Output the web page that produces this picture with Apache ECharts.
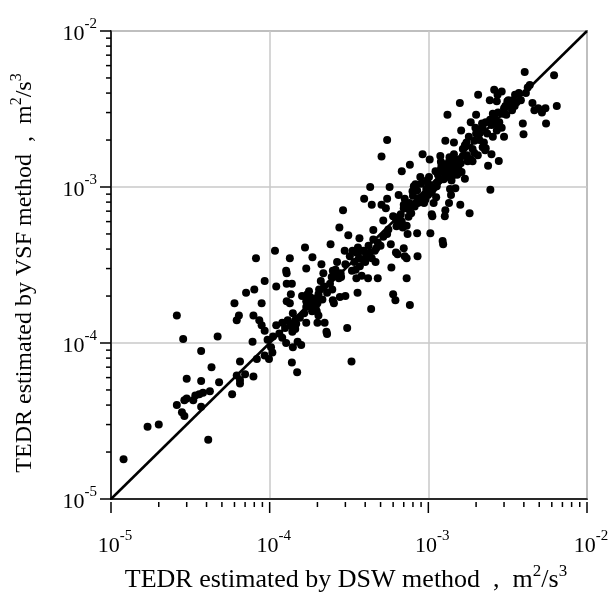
<!DOCTYPE html>
<html>
<head>
<meta charset="utf-8">
<script src="https://cdn.jsdelivr.net/npm/echarts@6/dist/echarts.min.js"></script>
<style>
  html, body { margin: 0; padding: 0; background: #fff; }
  #chart { width: 614px; height: 592px; }
</style>
</head>
<body>
<div id="chart"></div>
<script>
// TEDR pairs [DSW, VSF], m^2/s^3
const tedrPairs = [
  [1.2e-5, 1.8e-5], [1.7e-5, 2.9e-5], [2.0e-5, 3.0e-5], [2.6e-5, 1.5e-4], [2.85e-5, 1.06e-4],
  [2.6e-5, 4.0e-5], [2.8e-5, 3.6e-5], [2.9e-5, 3.4e-5], [2.9e-5, 4.3e-5], [3.0e-5, 4.4e-5],
  [3.0e-5, 5.9e-5], [3.3e-5, 4.3e-5], [3.4e-5, 4.6e-5], [3.6e-5, 4.7e-5], [3.7e-5, 3.9e-5],
  [3.8e-5, 4.8e-5], [3.7e-5, 8.9e-5], [3.7e-5, 5.7e-5], [4.2e-5, 4.9e-5], [4.3e-5, 7.0e-5],
  [4.1e-5, 2.4e-5], [4.7e-5, 1.1e-4], [4.8e-5, 5.6e-5], [5.8e-5, 4.7e-5], [6.0e-5, 1.8e-4],
  [6.2e-5, 1.4e-4], [6.4e-5, 1.5e-4], [6.2e-5, 6.2e-5], [6.5e-5, 5.8e-5], [6.5e-5, 5.5e-5],
  [6.5e-5, 7.6e-5], [7.1e-5, 2.1e-4], [7.0e-5, 6.3e-5], [7.9e-5, 1.5e-4], [7.8e-5, 1.02e-4],
  [7.9e-5, 6.1e-5], [8.0e-5, 2.2e-4], [8.2e-5, 3.5e-4], [8.3e-5, 7.9e-5], [8.6e-5, 1.4e-4],
  [8.9e-5, 1.8e-4], [8.9e-5, 1.3e-4], [9.3e-5, 2.5e-4], [9.3e-5, 1.2e-4], [9.3e-5, 8.3e-5],
  [9.9e-5, 7.9e-5], [9.7e-5, 1.05e-4], [1.02e-4, 9.4e-5], [1.04e-4, 8.7e-5], [1.08e-4, 3.9e-4],
  [1.1e-4, 2.3e-4], [1.1e-4, 1.3e-4], [1.2e-4, 1.35e-4], [1.27e-4, 2.9e-4], [1.28e-4, 2.8e-4],
  [1.28e-4, 2.4e-4], [1.28e-4, 1.85e-4], [1.27e-4, 1.0e-4], [1.34e-4, 3.5e-4], [1.34e-4, 1.8e-4],
  [1.36e-4, 2.05e-4], [1.38e-4, 2.4e-4], [1.38e-4, 7.5e-5], [1.39e-4, 1.18e-4], [1.4e-4, 9.4e-5],
  [1.45e-4, 1.23e-4], [1.47e-4, 1.33e-4], [1.49e-4, 6.5e-5], [1.5e-4, 1.02e-4], [1.58e-4, 9.7e-5],
  [1.67e-4, 4.1e-4], [1.7e-4, 3.0e-4], [1.7e-4, 1.85e-4], [1.7e-4, 1.35e-4], [1.73e-4, 2.05e-4],
  [1.77e-4, 2.15e-4], [1.86e-4, 3.55e-4], [1.82e-4, 1.95e-4], [1.9e-4, 1.7e-4], [1.93e-4, 1.8e-4],
  [1.98e-4, 1.6e-4], [2.0e-4, 1.95e-4], [2.03e-4, 2.05e-4], [2.03e-4, 1.5e-4], [2.0e-4, 1.35e-4],
  [2.1e-4, 2.5e-4], [2.12e-4, 3.2e-4], [2.18e-4, 2.8e-4], [2.22e-4, 1.35e-4], [2.28e-4, 1.18e-4],
  [2.3e-4, 1.14e-4], [2.42e-4, 4.3e-4], [2.46e-4, 2.65e-4], [2.48e-4, 2.2e-4], [2.5e-4, 1.88e-4],
  [2.54e-4, 1.8e-4], [2.6e-4, 2.95e-4], [2.66e-4, 3.3e-4], [2.73e-4, 2.6e-4], [2.77e-4, 1.97e-4],
  [2.82e-4, 2.65e-4], [2.75e-4, 5.5e-4], [2.9e-4, 7.1e-4], [2.97e-4, 3.9e-4], [3.0e-4, 2.0e-4],
  [3.08e-4, 1.25e-4], [3.13e-4, 4.9e-4], [3.28e-4, 7.6e-5], [3.33e-4, 3.9e-4], [3.42e-4, 3.3e-4],
  [3.48e-4, 2.95e-4], [3.52e-4, 2.6e-4], [3.58e-4, 2.1e-4], [3.66e-4, 3.5e-4], [3.68e-4, 4.7e-4],
  [3.77e-4, 3.9e-4], [3.8e-4, 2.7e-4], [3.9e-4, 3.4e-4], [4.05e-4, 3.6e-4], [4.17e-4, 2.6e-4],
  [4.28e-4, 3.8e-4], [4.36e-4, 1.65e-4], [3.94e-4, 8.4e-4], [4.3e-4, 1.0e-3], [4.4e-4, 7.7e-4],
  [4.5e-4, 5.3e-4], [4.6e-4, 3.9e-4], [4.65e-4, 3.3e-4], [4.8e-4, 2.6e-4], [4.7e-4, 4.05e-4],
  [5.07e-4, 1.57e-3], [5.5e-4, 2.0e-3], [5.7e-4, 1.0e-3], [5.07e-4, 7.7e-4], [5.2e-4, 6.1e-4],
  [5.4e-4, 7.3e-4], [5.5e-4, 8.4e-4], [5.6e-4, 5.35e-4], [5.8e-4, 4.3e-4], [5.85e-4, 3.05e-4],
  [6.0e-4, 2.05e-4], [6.2e-4, 1.88e-4], [6.25e-4, 3.8e-4], [6.4e-4, 3.7e-4], [6.0e-4, 6.5e-4],
  [6.2e-4, 6.35e-4], [6.35e-4, 6.0e-4], [6.5e-4, 8.9e-4], [6.7e-4, 6.7e-4], [6.9e-4, 5.5e-4],
  [7.0e-4, 4.05e-4], [7.1e-4, 3.6e-4], [6.8e-4, 1.26e-3], [7.0e-4, 7.7e-4], [7.1e-4, 8.4e-4],
  [7.3e-4, 5.65e-4], [7.4e-4, 5.0e-4], [7.5e-4, 6.45e-4], [7.6e-4, 7.9e-4], [7.65e-4, 1.39e-3],
  [7.3e-4, 2.6e-4], [7.65e-4, 1.75e-4], [7.3e-4, 3.5e-4], [7.95e-4, 9.4e-4], [8.1e-4, 1.01e-3],
  [8.3e-4, 1.04e-3], [8.5e-4, 5.05e-4], [8.55e-4, 3.6e-4], [8.65e-4, 8.4e-4], [8.9e-4, 1.16e-3],
  [9.2e-4, 1.62e-3], [9.4e-4, 7.9e-4], [9.7e-4, 9.7e-4], [9.8e-4, 1.1e-3], [9.95e-4, 8.9e-4],
  [1.01e-3, 1.16e-3], [1.02e-3, 1.5e-3], [1.03e-3, 5.05e-4], [1.05e-3, 6.7e-4], [1.06e-3, 6.5e-4],
  [1.07e-3, 9.7e-4], [1.08e-3, 7.9e-4], [1.12e-3, 8.6e-4], [1.11e-3, 1.26e-3], [1.13e-3, 1.01e-3],
  [1.14e-3, 1.07e-3], [1.17e-3, 1.1e-3], [1.19e-3, 1.58e-3], [1.21e-3, 1.37e-3], [1.23e-3, 4.5e-4],
  [1.24e-3, 4.3e-4], [1.27e-3, 6.5e-4], [1.28e-3, 7.1e-4], [1.28e-3, 1.98e-3], [1.32e-3, 1.37e-3],
  [1.34e-3, 1.16e-3], [1.35e-3, 7.9e-4], [1.37e-3, 9.7e-4], [1.39e-3, 8.9e-4], [1.32e-3, 2.9e-3],
  [1.43e-3, 1.3e-3], [1.45e-3, 1.93e-3], [1.48e-3, 9.8e-4], [1.51e-3, 1.32e-3], [1.56e-3, 1.5e-3],
  [1.58e-3, 3.45e-3], [1.59e-3, 7.7e-4], [1.61e-3, 2.3e-3], [1.65e-3, 1.58e-3], [1.7e-3, 1.13e-3],
  [1.74e-3, 1.93e-3], [1.77e-3, 1.46e-3], [1.82e-3, 6.8e-4], [1.85e-3, 2.6e-3], [1.9e-3, 1.46e-3],
  [1.95e-3, 1.98e-3], [1.98e-3, 2.4e-3], [2.0e-3, 2.9e-3], [2.06e-3, 3.9e-3], [2.1e-3, 2.2e-3],
  [2.18e-3, 2.55e-3], [2.24e-3, 1.93e-3], [2.28e-3, 1.72e-3], [2.3e-3, 1.77e-3], [2.38e-3, 1.37e-3],
  [2.44e-3, 3.6e-3], [2.46e-3, 9.6e-4], [2.5e-3, 1.62e-3], [2.55e-3, 2.95e-3], [2.6e-3, 4.2e-3],
  [2.66e-3, 2.55e-3], [2.7e-3, 3.55e-3], [2.73e-3, 3.9e-3], [2.78e-3, 1.47e-3], [2.9e-3, 4.1e-3],
  [2.9e-3, 2.4e-3], [2.94e-3, 2.95e-3], [3.0e-3, 2.1e-3], [3.06e-3, 3.3e-3], [3.15e-3, 3.55e-3],
  [3.24e-3, 3.45e-3], [3.33e-3, 3.35e-3], [3.37e-3, 3.1e-3], [3.42e-3, 3.6e-3], [3.52e-3, 3.9e-3],
  [3.72e-3, 4.0e-3], [3.83e-3, 3.6e-3], [3.94e-3, 2.55e-3], [3.98e-3, 2.18e-3], [4.05e-3, 5.45e-3],
  [4.12e-3, 4.0e-3], [4.23e-3, 4.35e-3], [4.36e-3, 4.5e-3], [4.53e-3, 3.45e-3], [4.66e-3, 3.1e-3],
  [4.93e-3, 3.2e-3], [5.2e-3, 3.0e-3], [5.47e-3, 3.2e-3], [5.52e-3, 2.55e-3], [6.2e-3, 5.2e-3],
  [6.45e-3, 3.3e-3],
  // dense clusters
  [1.2e-3, 1.3e-3], [1.25e-3, 1.4e-3], [1.3e-3, 1.25e-3], [1.35e-3, 1.45e-3], [1.4e-3, 1.35e-3],
  [1.45e-3, 1.2e-3], [1.38e-3, 1.22e-3], [1.28e-3, 1.18e-3], [1.42e-3, 1.5e-3], [1.5e-3, 1.4e-3],
  [1.55e-3, 1.3e-3], [1.33e-3, 1.3e-3], [1.47e-3, 1.28e-3], [1.25e-3, 1.12e-3], [1.4e-3, 1.1e-3],
  [1.52e-3, 1.2e-3], [1.36e-3, 1.55e-3], [1.6e-3, 1.42e-3], [1.2e-3, 1.45e-3], [1.15e-3, 1.2e-3],
  [1.62e-3, 1.25e-3], [1.45e-3, 1.62e-3],
  [8.5e-4, 9.5e-4], [9.0e-4, 1.05e-3], [8.8e-4, 8.5e-4], [9.5e-4, 9.0e-4], [1.0e-3, 1.05e-3],
  [9.2e-4, 8.0e-4], [8.0e-4, 8.8e-4], [7.5e-4, 7.2e-4], [7.0e-4, 7.3e-4], [6.6e-4, 6.5e-4],
  [7.8e-4, 6.8e-4], [8.2e-4, 7.5e-4], [6.3e-4, 5.6e-4], [6.8e-4, 6.0e-4], [1.05e-3, 9.2e-4],
  [9.6e-4, 8.3e-4], [1.1e-3, 1.0e-3], [8.6e-4, 7.9e-4],
  [3.2e-4, 3.6e-4], [3.5e-4, 3.8e-4], [3.9e-4, 3.9e-4], [4.2e-4, 4.2e-4], [4.0e-4, 3.3e-4],
  [3.7e-4, 3.1e-4], [4.4e-4, 3.5e-4], [4.8e-4, 4.4e-4], [5.2e-4, 4.8e-4], [5.0e-4, 4.2e-4],
  [3.3e-4, 2.9e-4], [3.0e-4, 3.2e-4], [4.5e-4, 4.6e-4], [3.6e-4, 4.1e-4], [5.5e-4, 5.0e-4],
  [4.1e-4, 3.7e-4],
  [1.7e-4, 1.7e-4], [1.8e-4, 1.75e-4], [1.85e-4, 1.6e-4], [1.9e-4, 1.9e-4], [2.0e-4, 1.8e-4],
  [2.05e-4, 2.2e-4], [1.75e-4, 1.9e-4], [2.2e-4, 2.3e-4], [2.4e-4, 2.4e-4], [2.6e-4, 2.7e-4],
  [1.95e-4, 1.7e-4], [2.15e-4, 1.9e-4], [1.65e-4, 1.55e-4], [1.55e-4, 1.45e-4], [2.3e-4, 2.1e-4],
  [2.8e-4, 2.8e-4], [1.6e-4, 2.0e-4], [2.5e-4, 2.9e-4],
  [1.15e-4, 1.15e-4], [1.25e-4, 1.25e-4], [1.35e-4, 1.3e-4], [1.2e-4, 1.08e-4], [1.3e-4, 1.4e-4],
  [1.45e-4, 1.4e-4], [1.05e-4, 1.1e-4], [1.4e-4, 1.55e-4],
  [2.1e-3, 2.0e-3], [2.2e-3, 2.4e-3], [2.35e-3, 2.2e-3], [2.5e-3, 2.5e-3], [2.6e-3, 2.8e-3],
  [2.45e-3, 2.7e-3], [2.75e-3, 3.0e-3], [2.8e-3, 2.6e-3], [3.0e-3, 3.2e-3], [3.1e-3, 2.9e-3],
  [3.2e-3, 3.6e-3], [2.3e-3, 2.6e-3], [2.0e-3, 2.2e-3], [1.9e-3, 1.75e-3], [2.05e-3, 1.6e-3],
  [2.55e-3, 2.1e-3], [2.7e-3, 2.3e-3], [3.5e-3, 3.3e-3], [3.6e-3, 3.5e-3], [1.8e-3, 2.1e-3],
  [1.7e-3, 1.85e-3], [2.2e-3, 1.8e-3],
  [1.75e-3, 1.6e-3], [1.85e-3, 1.5e-3], [1.65e-3, 1.75e-3], [1.95e-3, 1.65e-3]
]

const axisMin = 1e-5
const axisMax = 1e-2
const onetoone = [[1e-5, 1e-5], [1e-2, 1e-2]]
const majorTicks = [1e-5, 1e-4, 1e-3, 1e-2]
const minorTicks = [
  2e-5, 3e-5, 4e-5, 5e-5, 6e-5, 7e-5, 8e-5, 9e-5,
  2e-4, 3e-4, 4e-4, 5e-4, 6e-4, 7e-4, 8e-4, 9e-4,
  2e-3, 3e-3, 4e-3, 5e-3, 6e-3, 7e-3, 8e-3, 9e-3
]

const serif = '"Liberation Serif", "DejaVu Serif", serif'

const powerLabel = (val) => {
  const e = Math.round(Math.log10(val))
  return '{b|10}{s|' + e + '}'
}

const labelRich = {
  b: { fontSize: 22, fontFamily: serif, color: '#000', verticalAlign: 'bottom', lineHeight: 23 },
  s: { fontSize: 15, fontFamily: serif, color: '#000', verticalAlign: 'bottom', padding: [0, 0, 13, 0] }
}
const nameRich = (size) => ({
  t: { fontSize: size, fontFamily: serif, color: '#000', verticalAlign: 'bottom', lineHeight: size + 2 },
  s: { fontSize: Math.round(size * 0.65), fontFamily: serif, color: '#000', verticalAlign: 'bottom', padding: [0, 0, Math.round(size * 0.5), 0] }
})

const chart = echarts.init(document.getElementById('chart'))

const logAxis = {
  type: 'log',
  logBase: 10,
  min: axisMin,
  max: axisMax,
  axisLine: { show: true, onZero: false, lineStyle: { color: '#000', width: 1.5 } },
  axisTick: { show: false },
  splitLine: { show: true, lineStyle: { color: '#c8c8c8', width: 1.5 } },
  axisLabel: { formatter: powerLabel, rich: labelRich },
  nameLocation: 'middle'
}

chart.setOption({
  backgroundColor: '#fff',
  animation: false,
  grid: {
    left: 111, right: 27, top: 31, bottom: 93,
    outerBoundsMode: 'none',
    containLabel: false,
    show: true, borderColor: '#000', borderWidth: 1.5
  },
  xAxis: {
    ...logAxis,
    axisLabel: { ...logAxis.axisLabel, margin: 30, padding: [0, 0, 0, 8] },
    name: '{t|TEDR estimated by DSW method  ,  m}{s|2}{t|/s}{s|3}',
    nameGap: 64,
    nameTextStyle: { rich: nameRich(26), padding: [0, 6, 0, 0] }
  },
  yAxis: {
    ...logAxis,
    axisLabel: { ...logAxis.axisLabel, margin: 14 },
    name: '{t|TEDR estimated by VSF method  ,  m}{s|2}{t|/s}{s|3}',
    nameGap: 74,
    nameTextStyle: { rich: nameRich(24), padding: [0, 16, 0, 0] }
  },
  series: [
    {
      type: 'line',
      data: onetoone,
      symbol: 'none',
      lineStyle: { color: '#000', width: 2.5 },
      z: 3
    },
    {
      type: 'scatter',
      data: tedrPairs,
      symbol: 'circle',
      symbolSize: 8,
      itemStyle: { color: '#000', opacity: 1 },
      z: 4
    }
  ]
})

// tick marks on the bottom and left axes, placed through the axis scales
const tickLines = []
const addTicks = (values, len) => {
  values.forEach(v => {
    const bx = chart.convertToPixel({ gridIndex: 0 }, [v, axisMin])
    const ly = chart.convertToPixel({ gridIndex: 0 }, [axisMin, v])
    tickLines.push({
      type: 'line', silent: true, z: 10,
      shape: { x1: bx[0], y1: bx[1] + 3, x2: bx[0], y2: bx[1] + 3 + len },
      style: { stroke: '#000', lineWidth: 1.5 }
    })
    tickLines.push({
      type: 'line', silent: true, z: 10,
      shape: { x1: ly[0], y1: ly[1], x2: ly[0] - len, y2: ly[1] },
      style: { stroke: '#000', lineWidth: 1.5 }
    })
  })
}
addTicks(majorTicks, 11)
addTicks(minorTicks, 5)
chart.setOption({ graphic: tickLines })
</script>
</body>
</html>
